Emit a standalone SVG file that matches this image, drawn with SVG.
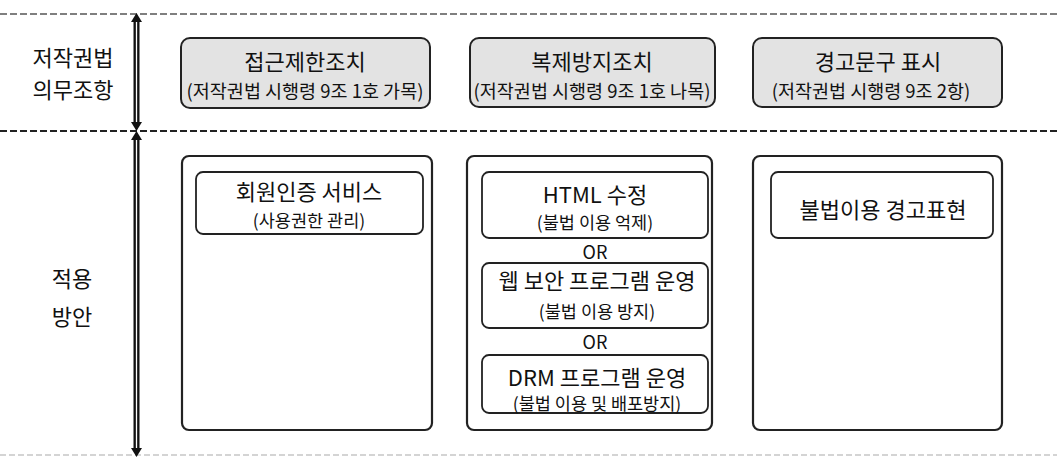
<svg xmlns="http://www.w3.org/2000/svg" width="1057" height="457" viewBox="0 0 1057 457">
<style>
text{font-family:"Noto Sans CJK KR","Noto Sans",sans-serif;fill:#111;text-anchor:middle}
.lbl{font-size:22px}
.t{font-size:22px}
.s{font-size:18.5px}
.sb{font-size:17.5px}
.or{font-size:18px}
.top{fill:#e3e3e3;stroke:#222;stroke-width:2}
.outer{fill:#fff;stroke:#222;stroke-width:2.2}
.inner{fill:#fff;stroke:#222;stroke-width:1.8}
.head{fill:#111}
</style>
<g id="dividers">
<line x1="0" y1="14" x2="1057" y2="14" stroke="#555" stroke-width="1.6" stroke-dasharray="7 3"/>
<line x1="0" y1="131" x2="1057" y2="131" stroke="#222" stroke-width="2.2" stroke-dasharray="7 3"/>
<line x1="0" y1="455" x2="1057" y2="455" stroke="#aaa" stroke-width="1.2" stroke-dasharray="6 3"/>
</g>
<g id="labels">
<text class="lbl" x="73" y="66">저작권법</text>
<text class="lbl" x="73" y="98">의무조항</text>
<text class="lbl" x="72" y="287">적용</text>
<text class="lbl" x="72" y="325">방안</text>
</g>
<g id="connectors">
<line x1="136.5" y1="20" x2="136.5" y2="125" stroke="#111" stroke-width="6"/>
<line x1="136.5" y1="20" x2="136.5" y2="125" stroke="#fff" stroke-width="1.3"/>
<polygon class="head" points="136.5,13 131,22 142,22"/>
<polygon class="head" points="136.5,131 131,122 142,122"/>
<line x1="136.5" y1="137" x2="136.5" y2="449" stroke="#111" stroke-width="6"/>
<line x1="136.5" y1="137" x2="136.5" y2="449" stroke="#fff" stroke-width="1.3"/>
<polygon class="head" points="136.5,131 131,140 142,140"/>
<polygon class="head" points="136.5,457 131,448 142,448"/>
</g>
<g id="n-access">
<rect class="top" x="181" y="38" width="249" height="70" rx="9"/>
<text class="t" x="305" y="70">접근제한조치</text>
<text class="s" x="305" y="98">(저작권법 시행령 9조 1호 가목)</text>
</g>
<g id="n-copy">
<rect class="top" x="470" y="38" width="245" height="69" rx="9"/>
<text class="t" x="592" y="70">복제방지조치</text>
<text class="s" x="592" y="98">(저작권법 시행령 9조 1호 나목)</text>
</g>
<g id="n-warn">
<rect class="top" x="753" y="38" width="249" height="69" rx="9"/>
<text class="t" x="878" y="70">경고문구 표시</text>
<text class="s" x="871" y="98">(저작권법 시행령 9조 2항)</text>
</g>
<g id="col1">
<rect class="outer" x="182" y="156" width="250" height="274" rx="7"/>
<g id="n-member">
<rect class="inner" x="196" y="172" width="227" height="62" rx="7"/>
<text class="t" x="309" y="200">회원인증 서비스</text>
<text class="sb" x="309" y="227">(사용권한 관리)</text>
</g>
</g>
<g id="col2">
<rect class="outer" x="467" y="156" width="245" height="274" rx="7"/>
<g id="n-html">
<rect class="inner" x="482" y="172" width="226" height="66" rx="7"/>
<text class="t" x="595" y="203">HTML 수정</text>
<text class="sb" x="595" y="229">(불법 이용 억제)</text>
</g>
<text class="or" x="595" y="259">OR</text>
<g id="n-websec">
<rect class="inner" x="482" y="263" width="226" height="65" rx="7"/>
<text class="t" x="597" y="289">웹 보안 프로그램 운영</text>
<text class="sb" x="597" y="318">(불법 이용 방지)</text>
</g>
<text class="or" x="595" y="349">OR</text>
<g id="n-drm">
<rect class="inner" x="482" y="355" width="226" height="58" rx="7"/>
<text class="t" x="597" y="386">DRM 프로그램 운영</text>
<text class="sb" x="597" y="410">(불법 이용 및 배포방지)</text>
</g>
</g>
<g id="col3">
<rect class="outer" x="753" y="156" width="249" height="274" rx="7"/>
<g id="n-warnexpr">
<rect class="inner" x="771" y="172" width="222" height="66" rx="7"/>
<text class="t" x="883" y="218">불법이용 경고표현</text>
</g>
</g>
</svg>
